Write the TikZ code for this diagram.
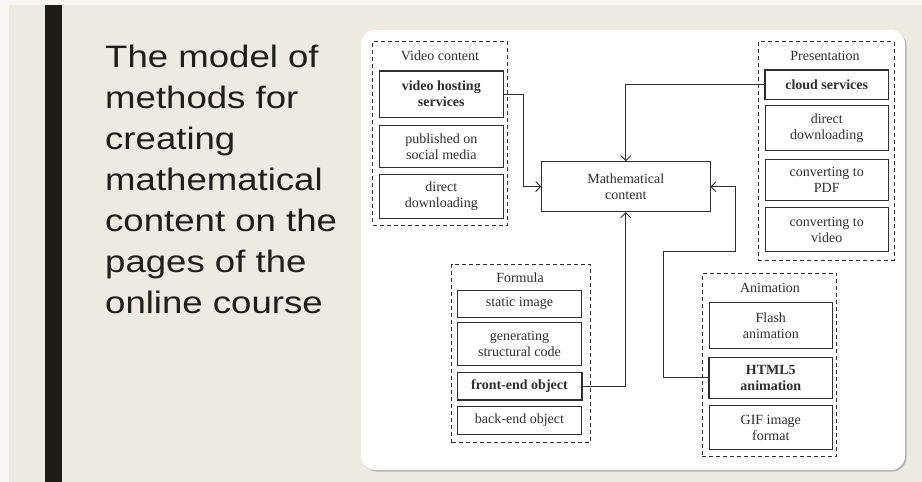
\documentclass[tikz,border=0pt]{standalone}
\usepackage{fontspec}
\setmainfont{Liberation Serif}
\newfontfamily\titlefont[FakeStretch=1.18]{Liberation Sans}
\usetikzlibrary{arrows.meta}
\definecolor{bg}{HTML}{EDEAE2}
\definecolor{bar}{HTML}{1C1B14}
\definecolor{ink}{HTML}{2E2E2E}
\definecolor{titleink}{HTML}{1E1E1A}
\begin{document}
\begin{tikzpicture}[x=1pt,y=-1pt,
  box/.style={draw=ink, line width=0.8pt, fill=white, inner sep=0pt, align=center,
    font=\fontsize{14}{16}\selectfont, text=ink, minimum width=124pt},
  bbox/.style={box, line width=1.6pt, font=\fontsize{14}{16}\selectfont\bfseries},
  grp/.style={draw=ink, dash pattern=on 4pt off 3pt, line width=0.8pt, inner sep=0pt},
  lbl/.style={font=\fontsize{14}{16}\selectfont, text=ink, inner sep=0pt},
  conn/.style={draw=ink, line width=0.9pt},
  arr/.style={conn, -{Straight Barb[length=5pt,width=10pt,line width=0.9pt]}},
  ttl/.style={anchor=base west, inner sep=0pt, text=titleink, font=\titlefont\fontsize{31}{41}\selectfont}
]
\useasboundingbox (0,0) rectangle (922,482);
\fill[bg] (0,0) rectangle (922,482);
\fill[white!55!bg] (0,0) rectangle (922,5);
\fill[white!55!bg] (0,0) rectangle (9,482);
\fill[bar] (45,5) rectangle (62,482);

% title
\node[ttl] (t1) at (105,67) {The model of};
\node[ttl] (t2) at (105,108) {methods for};
\node[ttl] (t3) at (105,149) {creating};
\node[ttl] (t4) at (105,190) {mathematical};
\node[ttl] (t5) at (105,231) {content on the};
\node[ttl] (t6) at (105,272) {pages of the};
\node[ttl] (t7) at (105,313) {online course};

% panel
\fill[black!30, rounded corners=14pt] (362.5,31.5) rectangle (906.5,471.5);
\fill[white, rounded corners=14pt] (361,30) rectangle (905,470);

% groups
\node[grp, minimum width=135pt, minimum height=183.3pt] (gv) at (440.2,133.35) {};
\node[lbl] (lv) at (440,56) {Video content};
\node[grp, minimum width=135.7pt, minimum height=218.3pt] (gp) at (826.15,150.85) {};
\node[lbl] (lp) at (825,55.5) {Presentation};
\node[grp, minimum width=138.3pt, minimum height=178.7pt] (gf) at (520.85,353.35) {};
\node[lbl] (lf) at (520,278) {Formula};
\node[grp, minimum width=134.4pt, minimum height=183.4pt] (ga) at (769.5,365) {};
\node[lbl] (la) at (770,287.5) {Animation};

% video content
\node[bbox, minimum height=46.3pt] (vh) at (441.3,94.2) {video hosting\\services};
\node[box, minimum height=41.6pt] (pub) at (441.3,146.5) {published on\\social media};
\node[box, minimum height=44pt] (dd1) at (441.3,196.3) {direct\\downloading};

% mathematical content
\node[box, minimum width=168.3pt, minimum height=50pt] (math) at (625.8,186.7) {Mathematical\\content};

% presentation
\node[bbox, minimum width=123.3pt, minimum height=29.3pt] (cs) at (826.7,84.7) {cloud services};
\node[box, minimum width=123.3pt, minimum height=45.7pt] (dd2) at (826.7,127.8) {direct\\downloading};
\node[box, minimum width=123.3pt, minimum height=41.4pt] (pdf) at (826.7,180) {converting to\\PDF};
\node[box, minimum width=123.3pt, minimum height=44pt] (vid) at (826.7,229.7) {converting to\\video};

% formula
\node[box, minimum width=124.4pt, minimum height=27.7pt] (si) at (519.5,303.8) {static image};
\node[box, minimum width=124.4pt, minimum height=43.4pt] (gsc) at (519.5,344) {generating\\structural code};
\node[bbox, minimum width=124.4pt, minimum height=27.3pt] (fe) at (519.5,386.3) {front-end object};
\node[box, minimum width=124.4pt, minimum height=28.3pt] (be) at (519.5,420.2) {back-end object};

% animation
\node[box, minimum width=123.7pt, minimum height=45.6pt] (fl) at (770.8,325.5) {Flash\\animation};
\node[bbox, minimum width=123.7pt, minimum height=41pt] (h5) at (770.8,377.8) {HTML5\\animation};
\node[box, minimum width=123.7pt, minimum height=43.6pt] (gif) at (770.8,427.5) {GIF image\\format};

% connector bends
\coordinate (b1) at (663.3,251.7);
\coordinate (b2) at (735,251.7);

% connectors
\draw[arr] (vh.east) -- ++(19,0) |- (math.west);
\draw[arr] (cs.west) -| (math.north);
\draw[arr] (fe.east) -| (math.south);
\draw[arr] (h5.west) -| (b1) -- (b2) |- (math.east);
\end{tikzpicture}
\end{document}
